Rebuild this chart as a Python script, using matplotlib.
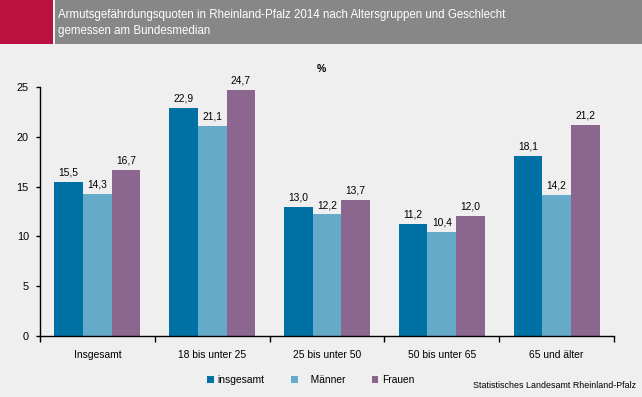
import matplotlib
matplotlib.use("Agg")
import matplotlib.pyplot as plt
import numpy as np
from matplotlib.patches import Rectangle

plt.rcParams['font.family'] = ['Liberation Sans', 'DejaVu Sans']

categories = ["Insgesamt", "18 bis unter 25", "25 bis unter 50", "50 bis unter 65", "65 und älter"]
series_names = ["insgesamt", "   Männer", "Frauen"]
insgesamt = [15.5, 22.9, 13.0, 11.2, 18.1]
maenner = [14.3, 21.1, 12.2, 10.4, 14.2]
frauen = [16.7, 24.7, 13.7, 12.0, 21.2]
yticks = [0, 5, 10, 15, 20, 25]
colors = ["#0071A4", "#66AACA", "#8B668F"]
bg = "#EEEFEE"

W, H = 642, 397
fig = plt.figure(figsize=(W / 100, H / 100), dpi=100, facecolor=bg)

# header
fig.patches.append(Rectangle((0, 1 - 44 / H), 53 / W, 44 / H, transform=fig.transFigure,
                             facecolor="#BA1141", edgecolor="none", zorder=0))
fig.patches.append(Rectangle((53 / W, 1 - 44 / H), 2 / W, 44 / H, transform=fig.transFigure,
                             facecolor="#F4F4F4", edgecolor="none", zorder=0))
fig.patches.append(Rectangle((55 / W, 1 - 44 / H), 1 - 55 / W, 44 / H, transform=fig.transFigure,
                             facecolor="#878787", edgecolor="none", zorder=0))
fig.text(58 / W, 1 - 15 / H, "Armutsgefährdungsquoten in Rheinland-Pfalz 2014 nach Altersgruppen und Geschlecht",
         color="white", fontsize=8.3, va="center", ha="left")
fig.text(58 / W, 1 - 31 / H, "gemessen am Bundesmedian",
         color="white", fontsize=8.3, va="center", ha="left")

ax = fig.add_axes([40 / W, 1 - 336 / H, (614 - 40) / W, (336 - 87) / H])
ax.set_facecolor(bg)

x = np.arange(len(categories))
bw = 0.25
for i, (vals, c) in enumerate(zip([insgesamt, maenner, frauen], colors)):
    pos = x + (i - 1) * bw
    ax.bar(pos, vals, width=bw, color=c, label=series_names[i], zorder=2)
    for px, v in zip(pos, vals):
        ax.text(px, v + 0.45, f"{v:.1f}".replace(".", ","), ha="center", va="bottom",
                fontsize=7.4, color="black")

ax.set_xlim(-0.5, len(categories) - 0.5)
ax.set_ylim(0, 25)
ax.set_yticks(yticks)
ax.set_yticklabels([str(t) for t in yticks], fontsize=7.8)
ax.tick_params(axis="y", direction="out", length=3, width=1, pad=5)
ax.set_xticks(np.arange(len(categories) + 1) - 0.5, minor=False)
ax.set_xticklabels([])
ax.tick_params(axis="x", direction="out", length=4, width=1)
ax.set_xticks(x, minor=True)
ax.set_xticklabels(categories, minor=True, fontsize=7.4)
ax.tick_params(axis="x", which="minor", length=0, pad=10)
for s in ["top", "right"]:
    ax.spines[s].set_visible(False)
for s in ["left", "bottom"]:
    ax.spines[s].set_linewidth(1)
    ax.spines[s].set_color("black")

fig.text(321 / W, 1 - 69 / H, "%", fontsize=7.6, ha="center", va="center", fontweight="bold")

handles, labels = ax.get_legend_handles_labels()
fig.legend(handles, labels, loc="center", bbox_to_anchor=(311 / W, 1 - 380 / H),
           ncol=3, frameon=False, fontsize=7.4, handlelength=0.6, handleheight=0.6,
           columnspacing=2.6, handletextpad=0.4)

fig.text(636 / W, 1 - 386 / H, "Statistisches Landesamt Rheinland-Pfalz", fontsize=6.4,
         ha="right", va="center")

fig.savefig("out.png", dpi=100, facecolor=bg)
